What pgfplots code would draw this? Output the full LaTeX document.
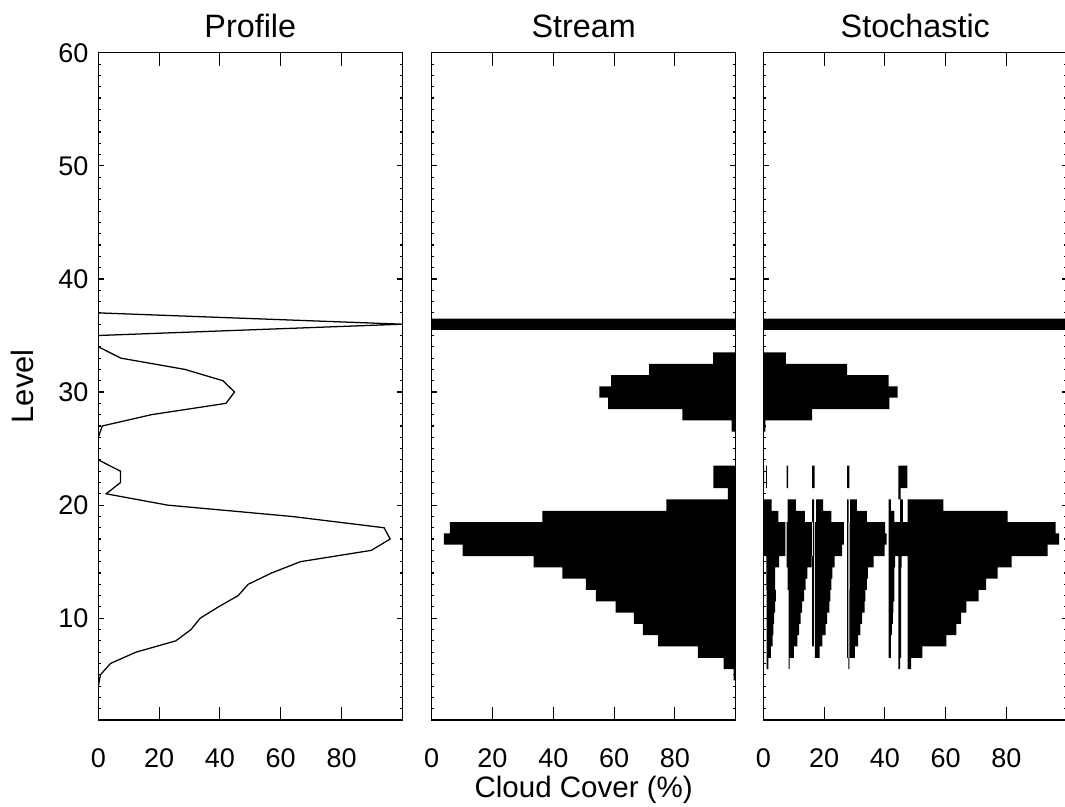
\documentclass[border=0pt]{standalone}
\usepackage{fontspec}
\setmainfont{Liberation Sans}
\usepackage{pgfplots}
\usepackage{pgfplotstable}
\pgfplotsset{compat=1.18}

% cloud cover (%) per model level
\pgfplotstableread{
L c
1 0
4 0
5 0.7
6 4.0
7 12.4
8 25.5
9 30.5
10 33.5
11 39.5
12 46.0
13 49.3
14 57.0
15 66.5
16 89.8
17 96.0
18 94.0
19 63.6
20 22.8
21 2.6
22 7.3
23 7.3
24 0
26 0
27 1.3
28 17.5
29 42.0
30 44.8
31 41.0
32 28.5
33 7.4
34 0
35 0
36 100
37 0
60 0
}\profile

% stochastic subcolumns: start/end of each cloudy run per level
\pgfplotstableread{
L a1 a2 b1 b2 t1 t2 c1 c2 u1 u2 d1 d2 e1 e2 f1 f2 g1 g2
36 0 100 100 100 100 100 100 100 100 100 100 100 100 100 100 100 100 100
33 0 7.4 7.4 7.4 7.4 7.4 7.4 7.4 7.4 7.4 7.4 7.4 7.4 7.4 7.4 7.4 7.4 7.4
32 0 27.6 27.6 27.6 27.6 27.6 27.6 27.6 27.6 27.6 27.6 27.6 27.6 27.6 27.6 27.6 27.6 27.6
31 0 41.2 41.2 41.2 41.2 41.2 41.2 41.2 41.2 41.2 41.2 41.2 41.2 41.2 41.2 41.2 41.2 41.2
30 0 44.2 44.2 44.2 44.2 44.2 44.2 44.2 44.2 44.2 44.2 44.2 44.2 44.2 44.2 44.2 44.2 44.2
29 0 41.5 41.5 41.5 41.5 41.5 41.5 41.5 41.5 41.5 41.5 41.5 41.5 41.5 41.5 41.5 41.5 41.5
28 0 16.1 16.1 16.1 16.1 16.1 16.1 16.1 16.1 16.1 16.1 16.1 16.1 16.1 16.1 16.1 16.1 16.1
27 0 0.7 0.7 0.7 0.7 0.7 0.7 0.7 0.7 0.7 0.7 0.7 0.7 0.7 0.7 0.7 0.7 0.7
23 0 0.3 0.9 1.2 7.7 8.2 16.1 16.9 27.6 28.3 44.4 47.4 47.4 47.4 47.4 47.4 47.4 47.4
22 0 0.3 0.9 1.2 7.7 8.2 16.1 16.9 27.6 28.3 44.4 47.4 47.4 47.4 47.4 47.4 47.4 47.4
21 44.4 45.2 45.2 45.2 45.2 45.2 45.2 45.2 45.2 45.2 45.2 45.2 45.2 45.2 45.2 45.2 45.2 45.2
20 0 2.7 8.0 10.7 16.1 16.7 17.4 19.7 27.6 28.1 28.6 30.8 41.2 42.0 45.0 45.9 47.5 59.2
19 0 5.0 8.0 13.7 16.1 16.7 17.4 22.4 27.6 28.1 28.6 34.1 41.2 43.1 45.0 45.9 47.5 80.4
18 0 7.3 7.7 16.0 16.3 16.7 17.0 26.5 27.6 28.0 28.4 40.1 41.2 96.2 96.2 96.2 96.2 96.2
17 0 7.3 7.7 16.0 16.3 16.7 17.0 26.5 27.6 28.0 28.4 40.6 41.2 97.3 97.3 97.3 97.3 97.3
16 0 7.3 7.7 16.0 16.3 16.7 17.0 25.9 27.6 28.0 28.4 39.9 41.2 93.5 93.5 93.5 93.5 93.5
15 1.0 5.2 7.7 15.9 16.1 16.6 17.0 23.5 27.6 28.0 28.4 36.3 41.2 43.4 44.4 45.5 47.5 81.7
14 1.0 3.9 8.0 14.5 16.1 16.6 17.0 22.7 27.6 28.0 28.4 34.4 41.2 43.1 44.4 45.3 47.5 77.1
13 1.0 3.9 8.0 13.9 16.1 16.6 17.0 22.4 27.6 28.0 28.4 34.1 41.2 43.1 44.4 45.3 47.5 73.3
12 1.1 4.1 8.3 13.4 16.1 16.6 17.0 22.1 27.6 28.0 28.3 33.6 41.2 43.1 44.4 45.3 47.5 70.8
11 1.1 3.9 8.3 12.8 16.1 16.6 17.0 21.7 27.6 28.0 28.3 33.3 41.2 42.8 44.4 45.3 47.5 66.8
10 1.1 3.6 8.3 12.3 16.1 16.6 17.0 21.0 27.6 28.0 28.3 32.5 41.2 42.6 44.4 45.3 47.5 65.1
9 1.1 3.3 8.3 11.8 16.1 16.6 17.0 20.5 27.6 28.0 28.3 31.9 41.2 42.3 44.4 45.3 47.5 63.5
8 1.1 3.1 8.3 11.2 16.1 16.6 17.0 19.4 27.6 28.0 28.3 31.2 41.2 42.0 44.4 45.3 47.5 60.2
7 1.1 2.5 8.3 10.1 10.1 10.1 17.0 18.5 27.6 28.0 28.3 30.1 41.2 42.0 44.4 45.3 47.5 52.3
6 1.1 1.7 8.3 8.7 8.7 8.7 8.7 8.7 28.0 28.3 28.3 28.3 28.3 28.3 44.4 45.0 47.5 48.6
}\stoch

\pgfplotsset{
  panel/.style={
    scale only axis, width=3.8cm, height=8.34cm,
    xmin=0, xmax=100, ymin=1, ymax=60,
    xtick={0,20,40,60,80}, ytick={10,20,...,60},
    minor ytick={1,...,60},
    tick align=inside,
    major tick length=0.07cm, minor tick length=0.035cm,
    xtick style={/pgfplots/major tick length=0.16cm},
    every tick/.style={black, line width=0.4pt},
    axis line style={line width=0.5pt},
    tick label style={font=\fontsize{9.6}{11}\selectfont},
    /pgf/number format/assume math mode=true,
    xticklabel style={anchor=base, yshift=-0.6cm},
  },
  gap/.style={draw=none, fill=none},
  cld/.style={draw=none, fill=black},
}
\tikzset{ttl/.style={anchor=base, yshift=0.19cm, font=\fontsize{11.5}{13}\selectfont}}

\begin{document}
\begin{tikzpicture}

\begin{axis}[panel, name=p1, at={(1.229cm,1.0875cm)}, anchor=south west,
  ylabel={Level},
  ylabel style={at={(axis description cs:-0.25,0.5)}, anchor=center,
    font=\fontsize{11}{13}\selectfont}]
\addplot[black, line width=0.45pt] table[x=c, y=L] \profile;
\end{axis}

\begin{axis}[panel, name=p2, at={(5.396cm,1.0875cm)}, anchor=south west,
  yticklabels={},
  xlabel={Cloud Cover (\%)},
  xlabel style={at={(axis description cs:0.5,0)}, anchor=base, yshift=-0.975cm,
    font=\fontsize{10.5}{12}\selectfont},
  xbar stacked, bar width=1]
\addplot[gap] table[y=L, x expr=100-\thisrow{c}] \profile;
\addplot[cld] table[y=L, x=c] \profile;
\end{axis}

\begin{axis}[panel, name=p3, at={(9.541cm,1.0875cm)}, anchor=south west,
  yticklabels={},
  xbar stacked, bar width=1]
\addplot[gap] table[y=L, x=a1] \stoch;
\addplot[cld] table[y=L, x expr=\thisrow{a2}-\thisrow{a1}] \stoch;
\addplot[gap] table[y=L, x expr=\thisrow{b1}-\thisrow{a2}] \stoch;
\addplot[cld] table[y=L, x expr=\thisrow{b2}-\thisrow{b1}] \stoch;
\addplot[gap] table[y=L, x expr=\thisrow{t1}-\thisrow{b2}] \stoch;
\addplot[cld] table[y=L, x expr=\thisrow{t2}-\thisrow{t1}] \stoch;
\addplot[gap] table[y=L, x expr=\thisrow{c1}-\thisrow{t2}] \stoch;
\addplot[cld] table[y=L, x expr=\thisrow{c2}-\thisrow{c1}] \stoch;
\addplot[gap] table[y=L, x expr=\thisrow{u1}-\thisrow{c2}] \stoch;
\addplot[cld] table[y=L, x expr=\thisrow{u2}-\thisrow{u1}] \stoch;
\addplot[gap] table[y=L, x expr=\thisrow{d1}-\thisrow{u2}] \stoch;
\addplot[cld] table[y=L, x expr=\thisrow{d2}-\thisrow{d1}] \stoch;
\addplot[gap] table[y=L, x expr=\thisrow{e1}-\thisrow{d2}] \stoch;
\addplot[cld] table[y=L, x expr=\thisrow{e2}-\thisrow{e1}] \stoch;
\addplot[gap] table[y=L, x expr=\thisrow{f1}-\thisrow{e2}] \stoch;
\addplot[cld] table[y=L, x expr=\thisrow{f2}-\thisrow{f1}] \stoch;
\addplot[gap] table[y=L, x expr=\thisrow{g1}-\thisrow{f2}] \stoch;
\addplot[cld] table[y=L, x expr=\thisrow{g2}-\thisrow{g1}] \stoch;
\end{axis}

\node[ttl] at (p1.north) {Profile};
\node[ttl] at (p2.north) {Stream};
\node[ttl] at (p3.north) {Stochastic};

\pgfresetboundingbox
\path[use as bounding box] (0,0) rectangle (13.3125cm,10.0875cm);
\end{tikzpicture}
\end{document}
